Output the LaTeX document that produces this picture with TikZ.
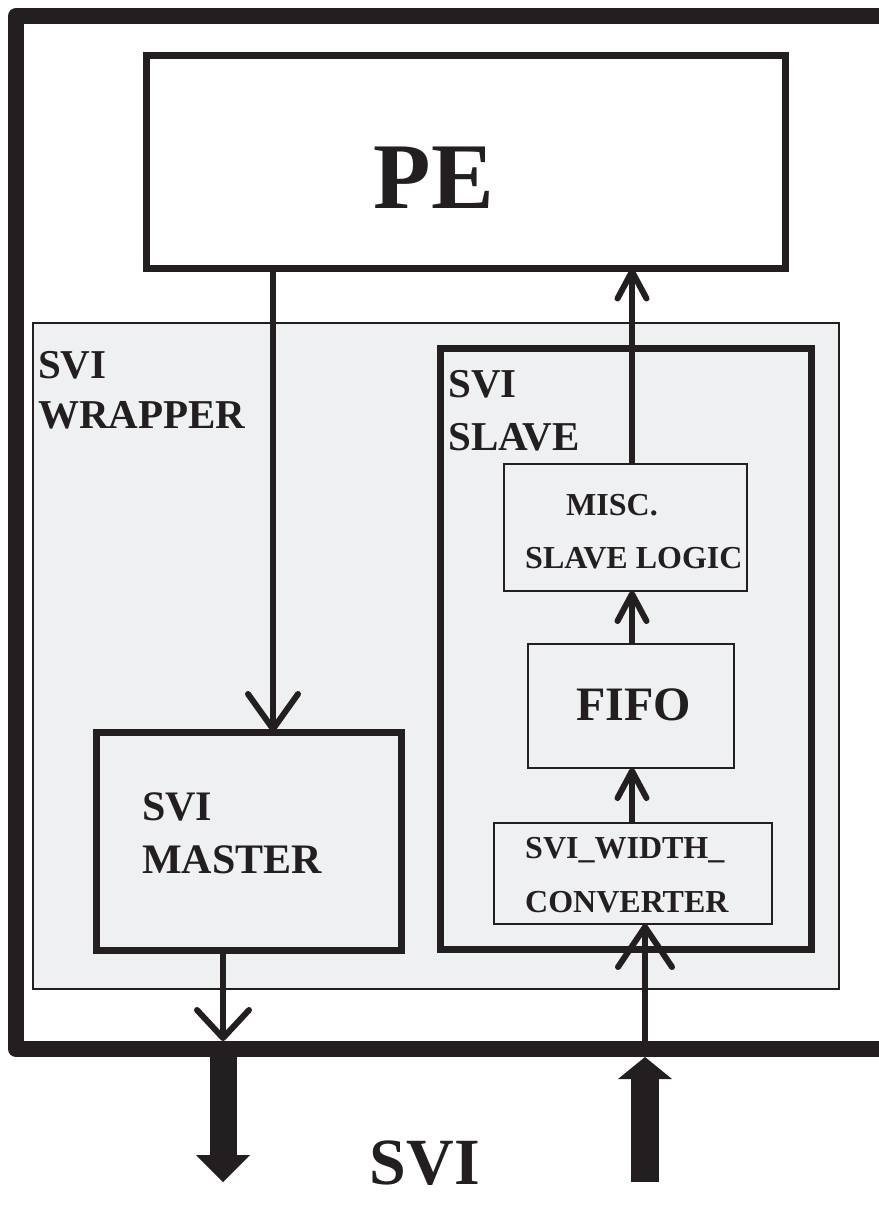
\documentclass[tikz,border=0pt]{standalone}
\usepackage{fontspec}
\setmainfont{Liberation Serif}
\usetikzlibrary{arrows.meta}

\definecolor{ink}{RGB}{35,31,32}
\definecolor{wrapgray}{RGB}{239,240,242}

\begin{document}
\begin{tikzpicture}[x=1pt,y=-1pt,
    box/.style={draw=ink,line width=7pt,outer sep=0pt,inner sep=0pt},
    thinbox/.style={draw=ink,line width=2.5pt,outer sep=0pt,inner sep=0pt},
    lbl/.style={anchor=base west,inner sep=0pt,text=ink,
        font=\bfseries\fontsize{#1}{#1}\selectfont},
    wire/.style={draw=ink,line width=6pt},
    bigbarb/.style={-{Straight Barb[length=35pt,width=50pt,round]}},
    smallbarb/.style={-{Straight Barb[length=27pt,width=29pt,round]}},
    inbarb/.style={-{Straight Barb[length=40pt,width=54pt,round]}},
    outbarb/.style={-{Straight Barb[length=28pt,width=52pt,round]}}]

\useasboundingbox (0,0) rectangle (878,1209);

% Chip outline
\node[box,line width=16pt,line join=round,fill=white,
    minimum width=876pt,minimum height=1033pt] (chip) at (454,532.5) {};

% PE
\node[box,line width=6.5pt,minimum width=639pt,minimum height=213pt]
    (pe) at (466,162) {};

% Wrapper and its blocks
\node[thinbox,fill=wrapgray,minimum width=806pt,minimum height=666pt]
    (wrap) at (436,656) {};
\node[box,minimum width=371pt,minimum height=601pt] (slave) at (625.5,649) {};
\node[box,minimum width=305pt,minimum height=218pt] (master) at (248.5,841) {};

\node[thinbox,minimum width=243pt,minimum height=127pt] (misc) at (625.5,527.5) {};
\node[thinbox,minimum width=206pt,minimum height=124pt] (fifo) at (631,706) {};
\node[thinbox,minimum width=278pt,minimum height=101pt] (conv) at (633,873.5) {};

% Columns for the wires
\coordinate (mx) at (273,0);
\coordinate (sx) at (632,0);
\coordinate (ox) at (223,0);
\coordinate (ix) at (645,0);

% PE to master
\draw[wire,bigbarb] (pe.south -| mx) -- (master.north -| mx);

% Slave path up to PE
\draw[wire,smallbarb] (conv.north -| sx) -- (fifo.south -| sx);
\draw[wire,smallbarb] (fifo.north -| sx) -- (misc.south -| sx);
\draw[wire,smallbarb] (misc.north -| sx) -- (pe.south -| sx);

% SVI out / in
\draw[wire,outbarb,shorten >=8pt] (master.south -| ox) -- (chip.south -| ox);
\draw[wire,inbarb] (chip.south -| ix) -- (conv.south -| ix);

\coordinate (outEnd) at (223,1182);
\coordinate (inStart) at (645,1182);
\draw[draw=ink,line width=27pt,shorten <=8pt,
    -{Triangle[length=27pt,width=54pt,line width=0pt]}]
    (chip.south -| ox) -- (outEnd);
\draw[draw=ink,line width=28pt,shorten >=8pt,
    -{Triangle[length=22pt,width=54pt,line width=0pt]}]
    (inStart) -- (chip.south -| ix);

% Labels
\node[lbl=94,anchor=base] (peL) at (434,208) {PE};

\node[lbl=41] (wrapA) at (38,378) {SVI};
\node[lbl=41] (wrapB) at (38,428) {WRAPPER};

\node[lbl=41] (slaveA) at (448,397) {SVI};
\node[lbl=41] (slaveB) at (448,450) {SLAVE};

\node[lbl=42] (masterA) at (142,820) {SVI};
\node[lbl=42] (masterB) at (142,873) {MASTER};

\node[lbl=32] (miscA) at (566,515) {MISC.};
\node[lbl=32] (miscB) at (525,568) {SLAVE LOGIC};

\node[lbl=48,anchor=base] (fifoL) at (633.5,720) {FIFO};

\node[lbl=32] (convA) at (525,858) {SVI\_WIDTH\_};
\node[lbl=32] (convB) at (525,912) {CONVERTER};

\node[lbl=66,anchor=base] (sviL) at (425,1184) {SVI};

\end{tikzpicture}
\end{document}
